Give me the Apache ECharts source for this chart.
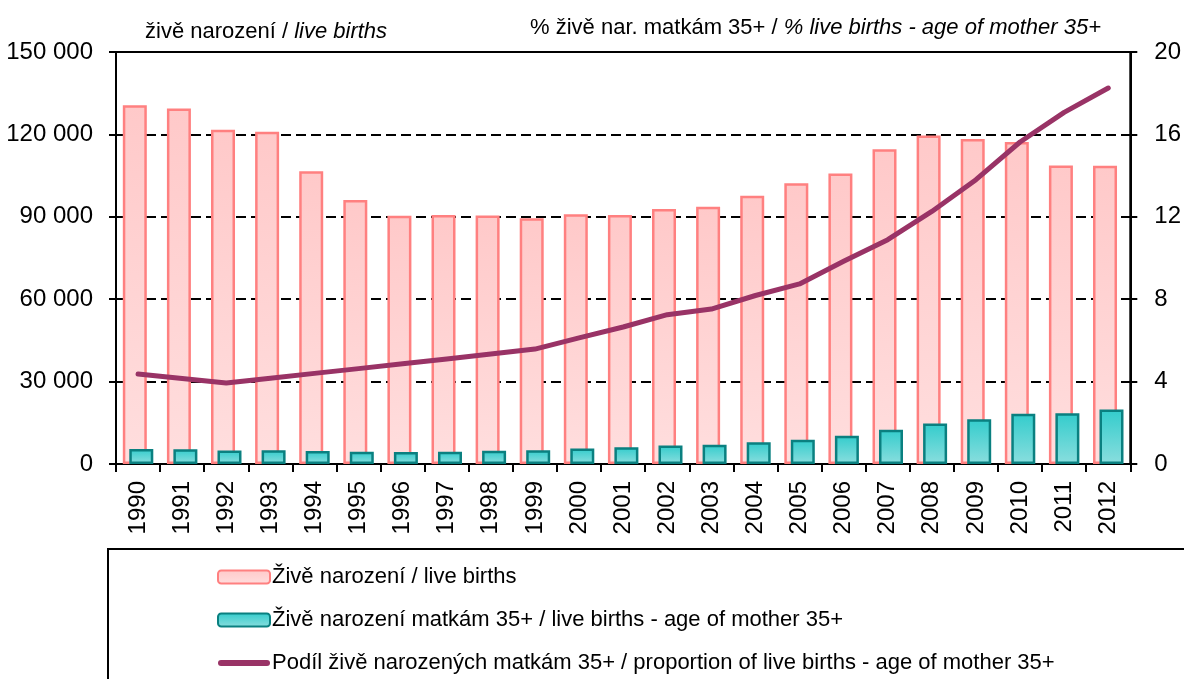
<!DOCTYPE html>
<html lang="cs">
<head>
    <meta charset="UTF-8">
    <title>Živě narození a podíl matek 35+</title>
    <script src="https://cdn.jsdelivr.net/npm/echarts@6/dist/echarts.min.js"></script>
    <style>
        html, body { margin: 0; padding: 0; background: #fff; }
        #chart { width: 1184px; height: 679px; }
    </style>
</head>
<body>
<div id="chart"></div>
<script>
    var years = ['1990', '1991', '1992', '1993', '1994', '1995', '1996', '1997', '1998', '1999', '2000',
        '2001', '2002', '2003', '2004', '2005', '2006', '2007', '2008', '2009', '2010', '2011', '2012'];

    // živě narození / live births
    var liveBirths = [130600, 129400, 121700, 121000, 106600, 96100, 90400, 90700, 90500, 89500, 90900,
        90700, 92800, 93700, 97700, 102200, 105800, 114600, 119600, 118300, 117200, 108700, 108600];

    // živě narození matkám 35+ / live births - age of mother 35+
    var births35 = [5500, 5400, 4900, 5000, 4700, 4500, 4400, 4500, 4800, 5000, 5600,
        6100, 6700, 7000, 7900, 8800, 10300, 12500, 14700, 16300, 18300, 18500, 19800];

    // podíl v % / share in %
    var share35 = [4.37, 4.15, 3.93, 4.16, 4.40, 4.63, 4.87, 5.10, 5.34, 5.58, 6.12,
        6.65, 7.25, 7.52, 8.18, 8.74, 9.84, 10.89, 12.26, 13.80, 15.63, 17.07, 18.25];

    var seriesNames = [
        'Živě narození / live births',
        'Živě narození matkám 35+ / live births - age of mother 35+',
        'Podíl živě narozených matkám 35+ / proportion of live births - age of mother 35+'
    ];

    var FONT = '"Liberation Sans", Arial, sans-serif';
    var PLUM = '#993366';

    function spaced(v) {
        return String(v).replace(/\B(?=(\d{3})+(?!\d))/g, ' ');
    }

    var chart = echarts.init(document.getElementById('chart'));

    var option = {
        animation: false,
        textStyle: { fontFamily: FONT, color: '#000' },
        title: [
            {
                text: 'živě narození / {i|live births}',
                left: 140, top: 16,
                textStyle: {
                    fontFamily: FONT, fontSize: 22, fontWeight: 'normal', color: '#000',
                    rich: { i: { fontFamily: FONT, fontSize: 22, fontStyle: 'italic', color: '#000' } }
                }
            },
            {
                text: '% živě nar. matkám 35+ / {i|% live births - age of mother 35+}',
                left: 525, top: 12,
                textStyle: {
                    fontFamily: FONT, fontSize: 22, fontWeight: 'normal', color: '#000',
                    rich: { i: { fontFamily: FONT, fontSize: 22, fontStyle: 'italic', color: '#000' } }
                }
            }
        ],
        grid: {
            left: 116, right: 52, top: 52, bottom: 215,
            show: true, borderColor: '#000', borderWidth: 2
        },
        legend: {
            orient: 'vertical',
            left: 212, top: 561,
            itemWidth: 52, itemHeight: 13,
            itemGap: 21,
            textStyle: { fontFamily: FONT, fontSize: 22, color: '#000', padding: [0, 0, 0, -3] },
            data: [
                { name: seriesNames[0] },
                { name: seriesNames[1] },
                {
                    name: seriesNames[2],
                    icon: 'path://M3,0 L49,0 A3,3 0 0 1 49,6 L3,6 A3,3 0 0 1 3,0 Z',
                    itemStyle: { color: PLUM, borderWidth: 0 }
                }
            ]
        },
        graphic: [
            {
                type: 'rect',
                shape: { x: 108, y: 549, width: 1100, height: 160 },
                style: { fill: 'none', stroke: '#000', lineWidth: 2 },
                z: -1
            }
        ],
        xAxis: {
            type: 'category',
            data: years,
            boundaryGap: true,
            axisLine: { lineStyle: { color: '#000', width: 2 } },
            axisTick: { show: true, length: 8, lineStyle: { color: '#000', width: 2 } },
            axisLabel: { rotate: 90, fontSize: 24, color: '#000', margin: 17, fontFamily: FONT }
        },
        yAxis: [
            {
                type: 'value',
                min: 0, max: 150000, interval: 30000,
                axisLine: { show: true, lineStyle: { color: '#000', width: 2 } },
                axisTick: { show: true, length: 7, lineStyle: { color: '#000', width: 2 } },
                axisLabel: { fontSize: 24, color: '#000', margin: 23, fontFamily: FONT, formatter: spaced },
                splitLine: { lineStyle: { color: '#000', width: 2, type: [10, 5] } }
            },
            {
                type: 'value',
                min: 0, max: 20, interval: 4,
                position: 'right',
                axisLine: { show: true, lineStyle: { color: '#000', width: 2 } },
                axisTick: { show: true, length: 7, lineStyle: { color: '#000', width: 2 } },
                axisLabel: { fontSize: 24, color: '#000', margin: 24, fontFamily: FONT },
                splitLine: { show: false }
            }
        ],
        series: [
            {
                name: seriesNames[0],
                type: 'bar',
                yAxisIndex: 0,
                barWidth: 24,
                barGap: '-73%',
                itemStyle: {
                    color: new echarts.graphic.LinearGradient(0, 0, 0, 1, [
                        { offset: 0, color: '#FFC9C9' },
                        { offset: 1, color: '#FFDEDE' }
                    ]),
                    borderColor: '#FF8080',
                    borderWidth: 2.5
                },
                data: liveBirths
            },
            {
                name: seriesNames[1],
                type: 'bar',
                yAxisIndex: 0,
                barWidth: 24,
                itemStyle: {
                    color: new echarts.graphic.LinearGradient(0, 0, 0, 1, [
                        { offset: 0, color: '#33CCCC' },
                        { offset: 1, color: '#8ADEDE' }
                    ]),
                    borderColor: '#0A8080',
                    borderWidth: 2.5
                },
                data: births35
            },
            {
                name: seriesNames[2],
                type: 'line',
                yAxisIndex: 1,
                symbol: 'none',
                lineStyle: { color: PLUM, width: 5, cap: 'round', join: 'round' },
                itemStyle: { color: PLUM },
                data: share35
            }
        ]
    };

    chart.setOption(option);
</script>
</body>
</html>
